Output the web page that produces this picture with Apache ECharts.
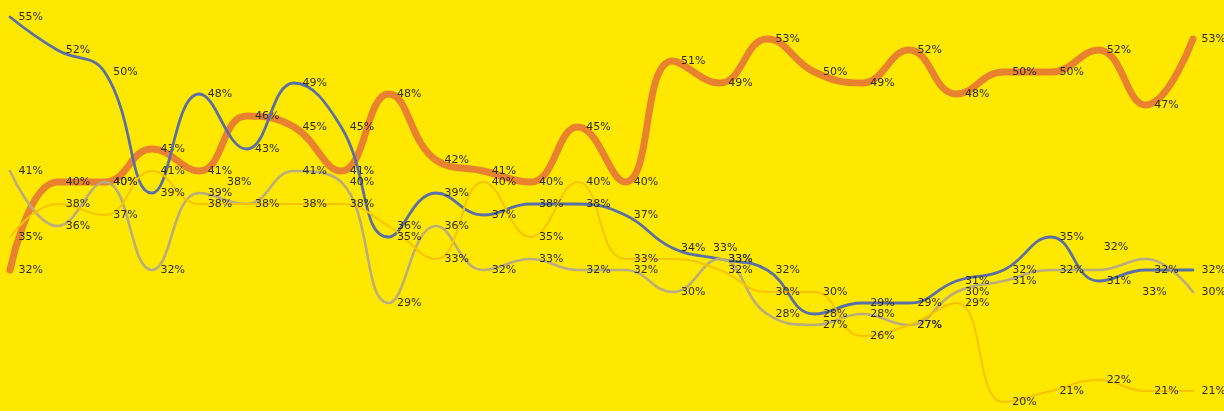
<!DOCTYPE html>
<html>
<head>
<meta charset="utf-8">
<script src="https://cdn.jsdelivr.net/npm/echarts@6/dist/echarts.min.js"></script>
<style>
  html, body { margin: 0; padding: 0; background: #FFE800; }
  #chart { width: 1224px; height: 411px; }
</style>
</head>
<body>
<div id="chart"></div>
<script>
// Survey waves (not labelled on the chart itself)
const periods = ['1', '2', '3', '4', '5', '6', '7', '8', '9', '10', '11', '12', '13',
                 '14', '15', '16', '17', '18', '19', '20', '21', '22', '23', '24', '25', '26'];

// Shares per wave, in percent
const blueValues   = [55, 52, 50, 39, 48, 43, 49, 45, 35, 39, 37, 38, 38, 37, 34, 33, 32, 28, 29, 29, 31, 32, 35, 31, 32, 32];
const orangeValues = [32, 40, 40, 43, 41, 46, 45, 41, 48, 42, 41, 40, 45, 40, 51, 49, 53, 50, 49, 52, 48, 50, 50, 52, 47, 53];
const grayValues   = [41, 36, 40, 32, 39, 38, 41, 40, 29, 36, 32, 33, 32, 32, 30, 33, 28, 27, 28, 27, 30, 31, 32, 32, 33, 30];
const goldValues   = [35, 38, 37, 41, 38, 38, 38, 38, 36, 33, 40, 35, 40, 33, 33, 32, 30, 30, 26, 27, 29, 20, 21, 22, 21, 21];

// A few labels were dragged off their points; [series, index] -> [dx, dy]
const movedLabels = {
  gray: { 5: [-28, -22], 23: [-3, -23], 24: [-12, 33] },
  gold: { 14: [32, -11] }
};

function withLabelOffsets(values, key) {
  const moves = movedLabels[key] || {};
  return values.map((v, i) => moves[i]
    ? { value: v, label: { offset: moves[i] } }
    : v);
}

const labelStyle = {
  show: true,
  position: 'right',
  distance: 8,
  formatter: p => p.value + '%',
  fontFamily: 'DejaVu Sans',
  fontSize: 11,
  color: '#2f2d18'
};

function lineSeries(name, key, values, color, width, z) {
  return {
    name: name,
    type: 'line',
    smooth: 0.45,
    data: withLabelOffsets(values, key),
    symbol: 'circle',
    symbolSize: 1,
    itemStyle: { color: color },
    lineStyle: { color: color, width: width, cap: 'round', join: 'round' },
    label: labelStyle,
    z: z
  };
}

const chart = echarts.init(document.getElementById('chart'), null, { renderer: 'canvas' });
chart.setOption({
  animation: false,
  backgroundColor: '#FFE800',
  grid: { left: 10, right: 31, top: 6, bottom: 9 },
  xAxis: {
    type: 'category',
    data: periods,
    boundaryGap: false,
    show: false
  },
  yAxis: {
    type: 'value',
    min: 20,
    max: 56,
    show: false
  },
  series: [
    lineSeries('Orange', 'orange', orangeValues, '#E9822F', 7, 2),
    lineSeries('Blue', 'blue', blueValues, '#5A6FA6', 2.8, 3),
    lineSeries('Gray', 'gray', grayValues, '#B9AC7E', 2.6, 3),
    lineSeries('Gold', 'gold', goldValues, '#F6C400', 2, 3)
  ]
});
</script>
</body>
</html>
